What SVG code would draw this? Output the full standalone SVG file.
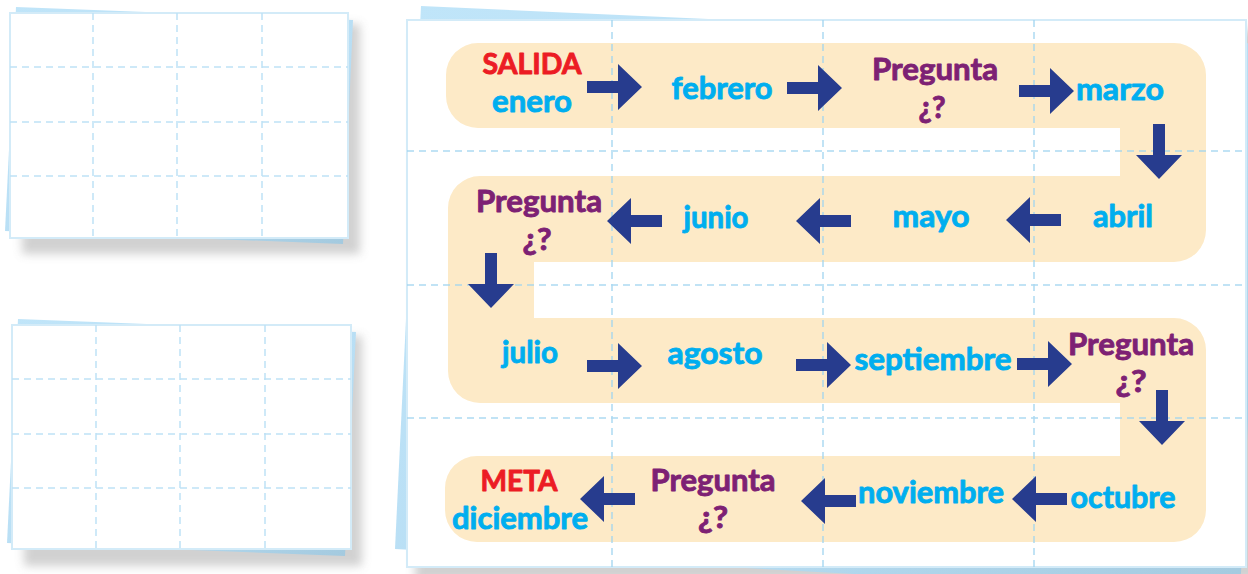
<svg xmlns="http://www.w3.org/2000/svg" width="1248" height="574" viewBox="0 0 1248 574">
<defs>
<style>
.card{fill:#ffffff;stroke:#d3ebf8;stroke-width:2}
.grid{stroke:#bfe2f6;stroke-width:1.5;stroke-dasharray:7 5;fill:none}
.bgrid{stroke:#9fd3f0;stroke-width:1.5;stroke-dasharray:7 5;fill:none;opacity:0.85}
.under{fill:url(#ug)}
.shadow{fill:#9a9a9a;opacity:0.45;filter:url(#blur)}
.path{fill:#fdeac7}
.arrow{fill:#273c8e}
text{font-family:"Lato","Liberation Sans",sans-serif;font-weight:bold;text-anchor:middle;stroke-width:0.9;stroke-linejoin:round}
.m{fill:#00aeef;stroke:#00aeef;font-size:31px}
.q{fill:#7d2174;stroke:#7d2174;font-size:31px}
.qs{fill:#7d2174;stroke:#7d2174;font-size:30px}
.r{fill:#ec1c24;stroke:#ec1c24;font-size:28px}
</style>
<linearGradient id="ug" x1="0" y1="0" x2="1" y2="1">
<stop offset="0" stop-color="#c0e5f9"/>
<stop offset="0.6" stop-color="#b8def4"/>
<stop offset="1" stop-color="#a3c9de"/>
</linearGradient>
<filter id="blur" x="-10%" y="-10%" width="120%" height="120%">
<feGaussianBlur stdDeviation="5"/>
</filter>
<path id="ar" d="M-55,-6 H-24 V-23 L0,0 L-24,23 V6 H-55 Z"/>
</defs>

<g id="card-top">
<rect class="shadow" x="22" y="24" width="338" height="230"/>
<polygon class="under" points="16,7 353,20 343,244 5,231"/>
<rect class="card" x="10" y="13" width="338" height="225"/>
<path class="grid" d="M93,13V238M177,13V238M262,13V238M10,67H348M10,122H348M10,176H348"/>
</g>

<g id="card-bottom">
<rect class="shadow" x="24" y="336" width="338" height="230"/>
<polygon class="under" points="18,319 356,332 345,556 7,543"/>
<rect class="card" x="12" y="325" width="339" height="224"/>
<path class="grid" d="M96,325V549M180,325V549M265,325V549M12,379H351M12,434H351M12,488H351"/>
</g>

<g id="board">
<rect class="shadow" x="415" y="30" width="850" height="552"/>
<polygon class="under" points="421,6 1265,44 1240,595 395,549"/>
<rect class="card" x="407" y="20" width="839" height="547"/>
<path class="path" d="M478,43 H1174 A32,32 0 0 1 1206,75 V230 A32,32 0 0 1 1174,262 H534 V318 H1174 A32,32 0 0 1 1206,350 V510 A32,32 0 0 1 1174,542 H477 A32,32 0 0 1 445,510 V488 A32,32 0 0 1 477,456 H1120 V403 H480 A32,32 0 0 1 448,371 V208 A32,32 0 0 1 480,176 H1120 V128 H478 A32,32 0 0 1 446,96 V75 A32,32 0 0 1 478,43 Z"/>
<path class="bgrid" d="M612,20V567M823,20V567M1034,20V567M407,151H1246M407,285H1246M407,418H1246"/>
</g>

<g id="connectors">
<use href="#ar" class="arrow" transform="translate(642,87)"/>
<use href="#ar" class="arrow" transform="translate(842,88)"/>
<use href="#ar" class="arrow" transform="translate(1074,91)"/>
<use href="#ar" class="arrow" transform="translate(1159,179) rotate(90)"/>
<use href="#ar" class="arrow" transform="translate(1006,220) rotate(180)"/>
<use href="#ar" class="arrow" transform="translate(796,221) rotate(180)"/>
<use href="#ar" class="arrow" transform="translate(607,221) rotate(180)"/>
<use href="#ar" class="arrow" transform="translate(491,308) rotate(90)"/>
<use href="#ar" class="arrow" transform="translate(642,366)"/>
<use href="#ar" class="arrow" transform="translate(851,365)"/>
<use href="#ar" class="arrow" transform="translate(1072,364)"/>
<use href="#ar" class="arrow" transform="translate(1162,445) rotate(90)"/>
<use href="#ar" class="arrow" transform="translate(1012,499) rotate(180)"/>
<use href="#ar" class="arrow" transform="translate(801,501) rotate(180)"/>
<use href="#ar" class="arrow" transform="translate(580,499) rotate(180)"/>
</g>

<g id="n-enero">
<text class="r" x="532" y="74" textLength="99" lengthAdjust="spacingAndGlyphs">SALIDA</text>
<text class="m" x="532" y="112" textLength="80" lengthAdjust="spacingAndGlyphs">enero</text>
</g>
<g id="n-febrero"><text class="m" x="722" y="99" textLength="101" lengthAdjust="spacingAndGlyphs">febrero</text></g>
<g id="n-pregunta1">
<text class="q" x="935" y="80" textLength="126" lengthAdjust="spacingAndGlyphs">Pregunta</text>
<text class="qs" x="932" y="118" textLength="27" lengthAdjust="spacingAndGlyphs">¿?</text>
</g>
<g id="n-marzo"><text class="m" x="1120" y="100" textLength="88" lengthAdjust="spacingAndGlyphs">marzo</text></g>
<g id="n-abril"><text class="m" x="1123" y="227" textLength="60" lengthAdjust="spacingAndGlyphs">abril</text></g>
<g id="n-mayo"><text class="m" x="931" y="227" textLength="77" lengthAdjust="spacingAndGlyphs">mayo</text></g>
<g id="n-junio"><text class="m" x="716" y="228" textLength="65" lengthAdjust="spacingAndGlyphs">junio</text></g>
<g id="n-pregunta2">
<text class="q" x="539" y="212" textLength="126" lengthAdjust="spacingAndGlyphs">Pregunta</text>
<text class="qs" x="537" y="250" textLength="29" lengthAdjust="spacingAndGlyphs">¿?</text>
</g>
<g id="n-julio"><text class="m" x="530" y="363" textLength="56" lengthAdjust="spacingAndGlyphs">julio</text></g>
<g id="n-agosto"><text class="m" x="715" y="364" textLength="95" lengthAdjust="spacingAndGlyphs">agosto</text></g>
<g id="n-septiembre"><text class="m" x="933" y="370" textLength="157" lengthAdjust="spacingAndGlyphs">septiembre</text></g>
<g id="n-pregunta3">
<text class="q" x="1131" y="355" textLength="126" lengthAdjust="spacingAndGlyphs">Pregunta</text>
<text class="qs" x="1131" y="392" textLength="31" lengthAdjust="spacingAndGlyphs">¿?</text>
</g>
<g id="n-octubre"><text class="m" x="1123" y="508" textLength="105" lengthAdjust="spacingAndGlyphs">octubre</text></g>
<g id="n-noviembre"><text class="m" x="931" y="503" textLength="146" lengthAdjust="spacingAndGlyphs">noviembre</text></g>
<g id="n-pregunta4">
<text class="q" x="713" y="491" textLength="125" lengthAdjust="spacingAndGlyphs">Pregunta</text>
<text class="qs" x="713" y="528" textLength="30" lengthAdjust="spacingAndGlyphs">¿?</text>
</g>
<g id="n-diciembre">
<text class="r" x="519" y="491" textLength="77" lengthAdjust="spacingAndGlyphs">META</text>
<text class="m" x="520" y="529" textLength="136" lengthAdjust="spacingAndGlyphs">diciembre</text>
</g>
</svg>
